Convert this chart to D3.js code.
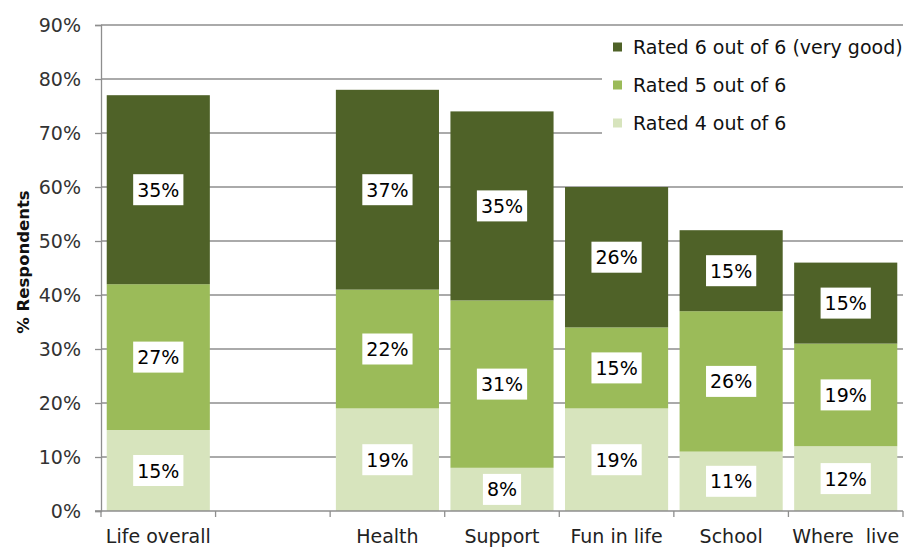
<!DOCTYPE html>
<html>
<head>
<meta charset="utf-8">
<script src="https://cdn.jsdelivr.net/npm/d3@7"></script>
<style>
  html, body { margin: 0; padding: 0; background: #fff; }
  svg { display: block; font-family: "DejaVu Sans", sans-serif; }
</style>
</head>
<body>
<svg id="chart" width="907" height="549"></svg>
<script>
// Categories (the empty slot leaves a gap after "Life overall")
const categories = ["Life overall", "", "Health", "Support", "Fun in life", "School", "Where  live"];
// Percent of respondents per rating
const rated4 = [15, null, 19, 8, 19, 11, 12];
const rated5 = [27, null, 22, 31, 15, 26, 19];
const rated6 = [35, null, 37, 35, 26, 15, 15];
const seriesNames = ["Rated 4 out of 6", "Rated 5 out of 6", "Rated 6 out of 6 (very good)"];
const seriesColors = ["#d7e4bd", "#9bbb59", "#4f6228"];
const yTicks = [0, 10, 20, 30, 40, 50, 60, 70, 80, 90];

const svg = d3.select("#chart");
const plotLeft = 101, plotRight = 903, plotTop = 25, plotBottom = 511;

const x = d3.scaleBand().domain(categories).range([plotLeft, plotRight])
  .paddingInner(0.1).paddingOuter(0.05);
const y = d3.scaleLinear().domain([0, 90]).range([plotBottom, plotTop]);

// Gridlines
svg.append("g").selectAll("line").data(yTicks.filter(d => d > 0)).join("line")
  .attr("x1", plotLeft).attr("x2", plotRight)
  .attr("y1", d => y(d)).attr("y2", d => y(d))
  .attr("stroke", "#8e8e8e").attr("stroke-width", 1.3);

// Y axis
const yAxis = svg.append("g").attr("transform", `translate(${plotLeft},0)`)
  .call(d3.axisLeft(y).tickValues(yTicks).tickFormat(d => d + "%").tickSize(6).tickPadding(14));
yAxis.select(".domain").attr("stroke", "#8e8e8e").attr("stroke-width", 1.3);
yAxis.selectAll(".tick line").attr("stroke", "#8e8e8e").attr("stroke-width", 1.3);
yAxis.selectAll(".tick text").attr("font-size", 19).attr("fill", "#333")
  .attr("font-family", "DejaVu Sans, sans-serif");

// Stacked data
const rows = categories.map((c, i) => ({ cat: c, r4: rated4[i], r5: rated5[i], r6: rated6[i] }))
  .filter(d => d.r4 != null);
const keys = ["r4", "r5", "r6"];
const stacked = d3.stack().keys(keys)(rows);

const layers = svg.append("g").selectAll("g").data(stacked).join("g")
  .attr("fill", (d, i) => seriesColors[i]);
layers.selectAll("rect").data(d => d).join("rect")
  .attr("x", d => x(d.data.cat))
  .attr("width", x.bandwidth())
  .attr("y", d => y(d[1]))
  .attr("height", d => y(d[0]) - y(d[1]));

// Value labels in white boxes
const labels = svg.append("g");
stacked.forEach(layer => {
  layer.forEach(d => {
    const v = d[1] - d[0];
    const cx = x(d.data.cat) + x.bandwidth() / 2;
    const cy = (y(d[0]) + y(d[1])) / 2;
    const g = labels.append("g");
    const t = g.append("text").attr("x", cx).attr("y", cy + 7)
      .attr("text-anchor", "middle").attr("font-size", 19).attr("fill", "#000")
      .text(v + "%");
    const w = t.node().getComputedTextLength();
    g.insert("rect", "text").attr("x", cx - w / 2 - 4).attr("y", cy - 15.5)
      .attr("width", w + 8).attr("height", 31).attr("fill", "#fff");
  });
});

// X axis line and tick marks at band edges
const step = x.step();
const edges = d3.range(categories.length + 1).map(i => plotLeft + i * step);
svg.append("line").attr("x1", plotLeft - 6).attr("x2", plotRight).attr("y1", plotBottom).attr("y2", plotBottom)
  .attr("stroke", "#8e8e8e").attr("stroke-width", 1.3);
svg.append("g").selectAll("line").data(edges).join("line")
  .attr("x1", d => d).attr("x2", d => d).attr("y1", plotBottom).attr("y2", plotBottom + 6)
  .attr("stroke", "#8e8e8e").attr("stroke-width", 1.3);
svg.append("g").selectAll("text").data(categories).join("text")
  .attr("x", d => x(d) + x.bandwidth() / 2)
  .attr("y", 543)
  .attr("text-anchor", "middle").attr("font-size", 19).attr("fill", "#222")
  .style("white-space", "pre")
  .text(d => d);

// Y axis title
svg.append("text").attr("transform", "translate(29,262) rotate(-90)")
  .attr("text-anchor", "middle").attr("font-size", 16.5).attr("font-weight", "bold")
  .attr("fill", "#111").text("% Respondents");

// Legend
const legend = svg.append("g");
legend.append("rect").attr("x", 602).attr("y", 29).attr("width", 305).attr("height", 115).attr("fill", "#fff");
const legendOrder = [2, 1, 0];
legendOrder.forEach((si, row) => {
  const cy = 47 + row * 38;
  legend.append("rect").attr("x", 613).attr("y", cy - 4.5).attr("width", 9).attr("height", 9)
    .attr("fill", seriesColors[si]);
  legend.append("text").attr("x", 633).attr("y", cy + 7).attr("font-size", 19).attr("fill", "#111")
    .text(seriesNames[si]);
});
</script>
</body>
</html>
